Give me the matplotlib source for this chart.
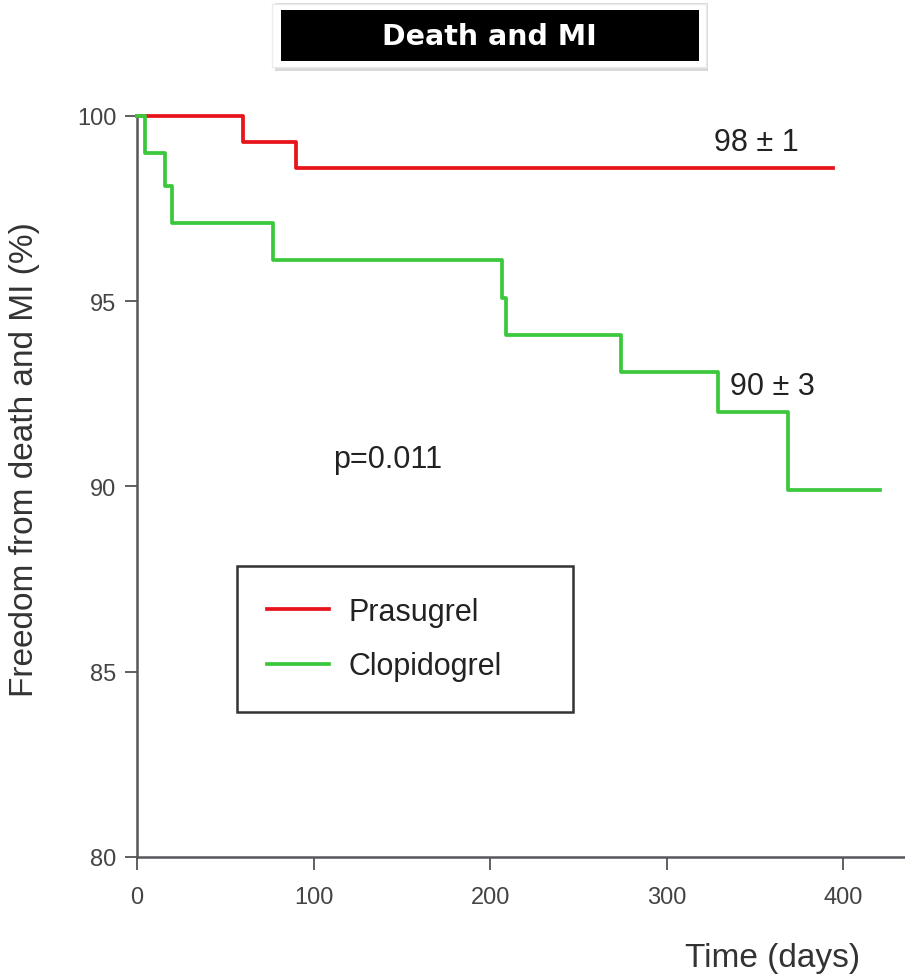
import matplotlib.pyplot as plt
from matplotlib.patches import Rectangle

# Kaplan-Meier step data (days, % free of death/MI)
prasugrel_days = [0, 60, 90, 394]
prasugrel_pct = [100, 99.3, 98.6, 98.6]

clopidogrel_days = [0, 4.5, 16, 20, 77, 207, 209, 274, 329, 369, 421]
clopidogrel_pct = [100, 99.0, 98.1, 97.1, 96.1, 95.1, 94.1, 93.1, 92.0, 89.9, 89.9]

x_ticks = [0, 100, 200, 300, 400]
y_ticks = [80, 85, 90, 95, 100]

plt.rcParams["font.family"] = ["Liberation Sans", "DejaVu Sans"]

fig = plt.figure(figsize=(9.05, 9.78), dpi=100)
ax = fig.add_axes([0.1514, 0.1227, 0.8486, 0.7577])

ax.step(prasugrel_days, prasugrel_pct, where="post", color="#e8141c", lw=2.7,
        label="Prasugrel", clip_on=False, zorder=3)
ax.step(clopidogrel_days, clopidogrel_pct, where="post", color="#3cc83c", lw=2.7,
        label="Clopidogrel", clip_on=False, zorder=3)

ax.set_xlim(0, 435)
ax.set_ylim(80, 100)
ax.set_xticks(x_ticks)
ax.set_yticks(y_ticks)
ax.tick_params(axis="both", direction="out", length=9, width=1.2, colors="#444444",
               labelsize=17, pad=6)
ax.tick_params(axis="x", pad=12)
for side in ["top", "right"]:
    ax.spines[side].set_visible(False)
for side in ["left", "bottom"]:
    ax.spines[side].set_color("#55575c")
    ax.spines[side].set_linewidth(1.8)

fig.text(25 / 905, 1 - 460 / 978, "Freedom from death and MI (%)", fontsize=24,
         color="#333333", rotation=90, ha="center", va="center")
fig.text(860 / 905, 0.004, "Time (days)", fontsize=24, color="#333333",
         ha="right", va="bottom")

ax.text(351, 99.3, "98 \u00b1 1", fontsize=22, color="#222222", ha="center", va="center")
ax.text(360, 92.7, "90 \u00b1 3", fontsize=22, color="#222222", ha="center", va="center")
ax.text(142, 90.75, "p=0.011", fontsize=22, color="#222222", ha="center", va="center")

leg = ax.legend(loc="lower left", bbox_to_anchor=(0.130, 0.196, 0.438, 0.195),
                mode="expand", fontsize=22, frameon=True, fancybox=False,
                handlelength=2.0, handletextpad=0.65, borderpad=1.0, labelspacing=0.8,
                borderaxespad=0)
leg.get_frame().set_edgecolor("black")
leg.get_frame().set_linewidth(1.8)
for t in leg.get_texts():
    t.set_color("#222222")

# title box with soft shadow
fig.patches.append(Rectangle((0.304, 0.926), 0.478, 0.070, transform=fig.transFigure,
                             facecolor="#d8d8d8", edgecolor="none", zorder=1))
fig.patches.append(Rectangle((0.301, 0.930), 0.479, 0.065, transform=fig.transFigure,
                             facecolor="white", edgecolor="#ececec", lw=1, zorder=2))
fig.patches.append(Rectangle((0.310, 0.937), 0.462, 0.052, transform=fig.transFigure,
                             facecolor="black", edgecolor="none", zorder=3))
fig.text(0.541, 0.962, "Death and MI", fontsize=20.5, fontweight="bold", color="white",
         family="DejaVu Sans", ha="center", va="center", zorder=4)

fig.savefig("out.png", dpi=100)
